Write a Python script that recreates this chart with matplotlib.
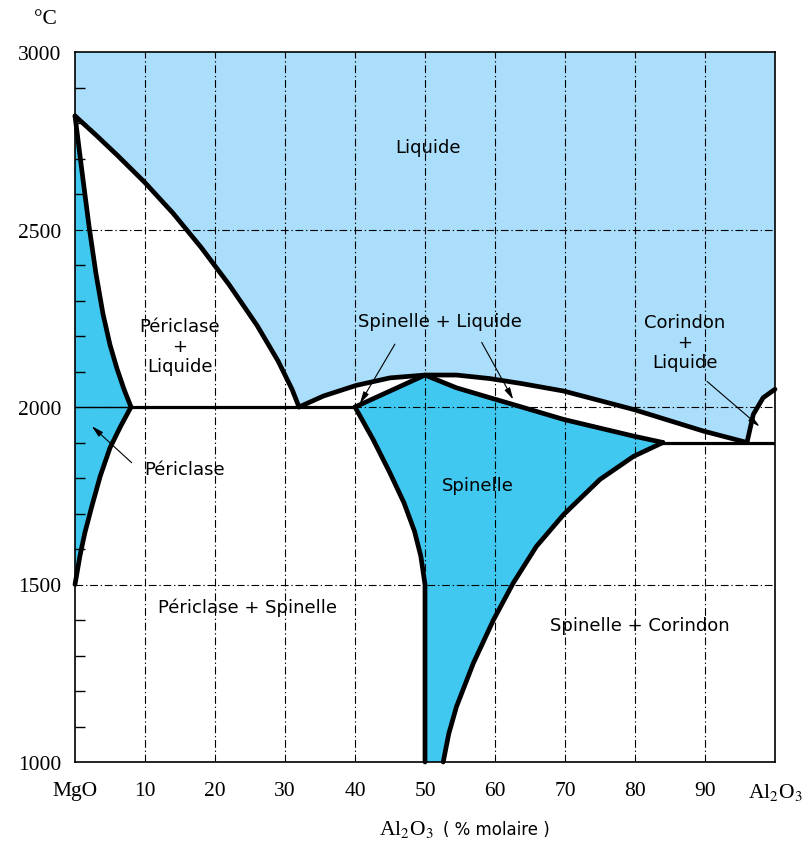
import matplotlib
matplotlib.use('Agg')
import matplotlib.pyplot as plt
from matplotlib.ticker import MultipleLocator

plt.rcParams['mathtext.fontset'] = 'stix'

LIGHT = '#AADEFA'
DARK = '#40C8F0'
SERIF = 'Liberation Serif'
SANS = 'DejaVu Sans'

# liquidus, cote MgO
liq_mgo_x = [0, 3, 6, 10, 14, 18, 22, 26, 29, 31, 32]
liq_mgo_t = [2820, 2766, 2710, 2632, 2546, 2450, 2345, 2230, 2130, 2050, 2000]
# solidus periclase
sol_per_x = [0, 1, 2, 3, 4, 5, 6, 7, 8]
sol_per_t = [2820, 2663, 2510, 2375, 2262, 2175, 2108, 2050, 2000]
# solvus periclase
solv_per_x = [8, 6.5, 5, 3.6, 2.4, 1.4, 0.7, 0]
solv_per_t = [2000, 1945, 1885, 1805, 1720, 1645, 1580, 1500]
# liquidus spinelle
liq_sp_x = [32, 35.5, 40.2, 45, 50, 54.5, 59.3, 63.8, 69.8, 79.8, 89.8, 96]
liq_sp_t = [2000, 2031, 2061, 2082, 2090, 2090, 2080, 2066, 2045, 1993, 1932, 1900]
# solidus spinelle
sol_sp_x = [40, 50, 54.5, 59.3, 63.8, 69.8, 79.8, 84]
sol_sp_t = [2000, 2090, 2054, 2026, 2000, 1965, 1918, 1900]
# solvus spinelle gauche / droite
solv_spl_x = [40, 42.6, 45, 47, 48.5, 49.4, 50, 50]
solv_spl_t = [2000, 1908, 1814, 1730, 1650, 1580, 1500, 1000]
solv_spr_x = [84, 79.8, 75, 69.8, 65.9, 62.6, 59.8, 56.9, 54.5, 53.4, 52.6]
solv_spr_t = [1900, 1861, 1796, 1697, 1607, 1504, 1401, 1278, 1156, 1080, 1000]
# liquidus corindon
liq_cor_x = [96, 96.9, 98.3, 100]
liq_cor_t = [1900, 1979, 2026, 2050]

x_ticks = [0, 10, 20, 30, 40, 50, 60, 70, 80, 90, 100]
x_labels = ['MgO', '10', '20', '30', '40', '50', '60', '70', '80', '90', 'Al$_2$O$_3$']
y_ticks = [1000, 1500, 2000, 2500, 3000]

fig = plt.figure(figsize=(8.08, 8.45), dpi=100)
ax = fig.add_axes([75 / 808, 1 - 763 / 845, 700 / 808, 710 / 845])
ax.set_xlim(0, 100)
ax.set_ylim(1000, 3000)

# zone liquide
lx = [0] + liq_mgo_x + liq_sp_x[1:] + liq_cor_x[1:] + [100]
lt = [3000] + liq_mgo_t + liq_sp_t[1:] + liq_cor_t[1:] + [3000]
ax.fill(lx, lt, color=LIGHT, lw=0, zorder=1)

# periclase
ax.fill(sol_per_x + solv_per_x[1:], sol_per_t + solv_per_t[1:], color=DARK, lw=0, zorder=1)

# spinelle
sx = sol_sp_x + solv_spr_x[1:] + solv_spl_x[::-1]
st = sol_sp_t + solv_spr_t[1:] + solv_spl_t[::-1]
ax.fill(sx, st, color=DARK, lw=0, zorder=1)

# grille pointillee
dash = (0, (7, 2.5, 1.2, 2.5))
for x in x_ticks[1:-1]:
    ax.axvline(x, color='black', lw=0.8, ls=dash, zorder=1.5)
for t in [1500, 2000, 2500]:
    ax.axhline(t, color='black', lw=0.8, ls=dash, zorder=1.5)

lw = 3.4
for xs, ts in [(liq_mgo_x, liq_mgo_t), (sol_per_x, sol_per_t), (solv_per_x, solv_per_t),
               (liq_sp_x, liq_sp_t), (sol_sp_x, sol_sp_t), (solv_spl_x, solv_spl_t),
               (solv_spr_x, solv_spr_t), (liq_cor_x, liq_cor_t)]:
    ax.plot(xs, ts, color='black', lw=lw, solid_capstyle='round',
            solid_joinstyle='round', zorder=3, clip_on=False)

# paliers eutectiques
ax.plot([8, 40], [2000, 2000], color='black', lw=2.3, zorder=3)
ax.plot([84, 100], [1900, 1900], color='black', lw=2.3, zorder=3)
ax.plot([0, 8], [2000, 2000], color='black', lw=1.0, zorder=2)

lab = dict(fontsize=13, family=SANS, ha='center', va='center', zorder=4)
ax.text(50.4, 2732, 'Liquide', **lab)
ax.text(15, 2171, 'Périclase\n+\nLiquide', linespacing=1.15, **lab)
ax.text(52.1, 2241, 'Spinelle + Liquide', **lab)
ax.text(87.1, 2182, 'Corindon\n+\nLiquide', linespacing=1.15, **lab)
ax.text(57.6, 1779, 'Spinelle', **lab)
ax.text(15.6, 1824, 'Périclase', **lab)
ax.text(24.7, 1438, 'Périclase + Spinelle', **lab)
ax.text(80.7, 1387, 'Spinelle + Corindon', **lab)

arr = dict(arrowstyle='-|>,head_length=0.7,head_width=0.18', color='black', lw=0.8,
           shrinkA=0, shrinkB=0)
ax.annotate('', xy=(40.7, 2010), xytext=(45.7, 2177), arrowprops=arr, zorder=4)
ax.annotate('', xy=(62.6, 2021), xytext=(58.1, 2182), arrowprops=arr, zorder=4)
ax.annotate('', xy=(97.8, 1945), xytext=(90.3, 2072), arrowprops=arr, zorder=4)
ax.annotate('', xy=(2.4, 1946), xytext=(8.1, 1843), arrowprops=arr, zorder=4)

ax.set_xticks(x_ticks)
ax.set_xticklabels(x_labels, family=SERIF, fontsize=15.5)
ax.set_yticks(y_ticks)
ax.set_yticklabels([str(v) for v in y_ticks], family=SERIF, fontsize=15.5)
ax.yaxis.set_minor_locator(MultipleLocator(100))
ax.tick_params(which='major', length=0)
ax.tick_params(axis='y', which='major', pad=10)
ax.tick_params(axis='x', which='major', pad=14)
ax.tick_params(which='minor', axis='y', direction='in', length=7, width=1.0)
for s in ax.spines.values():
    s.set_linewidth(1.2)
    s.set_zorder(5)

fig.text(45 / 808, 1 - 20 / 845, '°C', family=SERIF, fontsize=15.5, ha='center', va='center')
fig.text(379 / 808, 1 - 830 / 845, 'Al$_2$O$_3$', family=SERIF, fontsize=15.5, ha='left', va='center')
fig.text(443 / 808, 1 - 830 / 845, '( % molaire )', family=SANS, fontsize=12, ha='left', va='center')

fig.savefig('out.png', dpi=100)
